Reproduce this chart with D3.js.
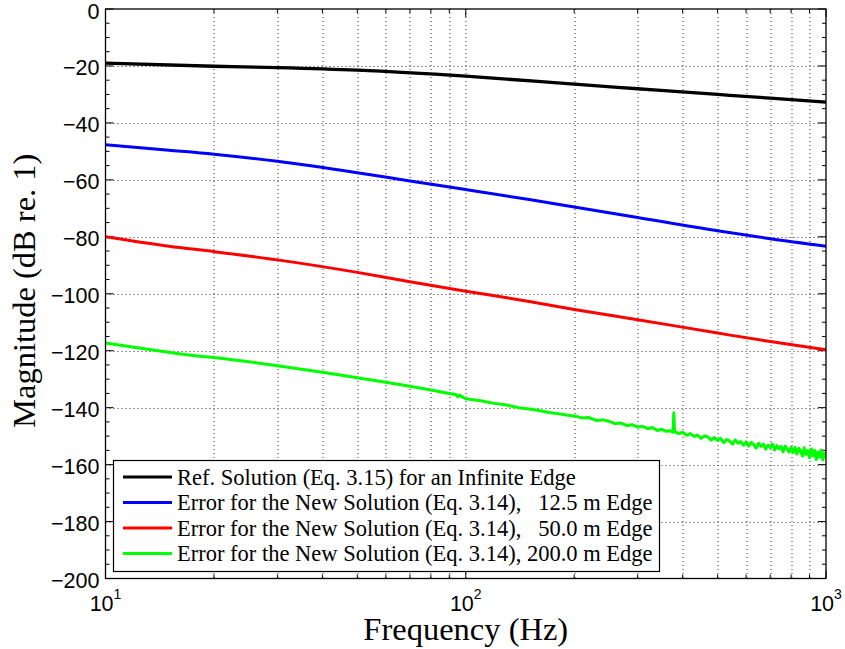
<!DOCTYPE html>
<html>
<head>
<meta charset="utf-8">
<script src="https://cdn.jsdelivr.net/npm/d3@7/dist/d3.min.js"></script>
<style>
  html, body { margin: 0; padding: 0; background: #fff; }
  svg { display: block; }
  text { white-space: pre; }
</style>
</head>
<body>
<svg id="chart" width="845" height="649"></svg>
<script>
// ---------------- DATA ----------------
const xTickExponents = [1, 2, 3];
const yTicks = [0, -20, -40, -60, -80, -100, -120, -140, -160, -180, -200];

const legendLabels = [
  "Ref. Solution (Eq. 3.15) for an Infinite Edge",
  "Error for the New Solution (Eq. 3.14),   12.5 m Edge",
  "Error for the New Solution (Eq. 3.14),   50.0 m Edge",
  "Error for the New Solution (Eq. 3.14), 200.0 m Edge"
];
const seriesColors = ["#000000", "#0000ff", "#ff0000", "#00ff00"];

const freqBlack = [10, 20, 30, 50, 100, 200, 300, 500, 700, 1000];
const magBlack  = [-19.0, -20.1, -20.6, -21.5, -23.6, -26.4, -28.0, -30.0, -31.3, -32.7];

const freqBlue = [10, 15, 20, 30, 50, 70, 100, 150, 200, 300, 500, 700, 1000];
const magBlue  = [-47.7, -49.6, -51.0, -53.5, -57.5, -60.4, -63.4, -66.9, -69.5, -73.2, -77.9, -80.7, -83.3];

const freqRed = [10, 15, 20, 30, 50, 70, 100, 150, 200, 300, 500, 700, 1000];
const magRed  = [-80.0, -83.3, -85.2, -88.1, -92.5, -95.8, -99.1, -102.7, -105.5, -109.1, -113.8, -116.8, -119.7];

const freqGreen = [
  10, 12, 14, 16, 18, 20, 25, 30, 35, 40, 50, 60, 70, 80, 90, 94, 95, 96,
  100, 110, 120, 130, 140, 150, 160, 170, 180, 190,
  200, 210, 220, 230, 240, 250, 260, 270, 280, 290,
  300, 310, 320, 330, 340, 350, 360, 370, 376, 378, 380, 390,
  400, 410, 420, 430, 440, 450, 460, 470, 480, 490,
  500, 510, 520, 530, 540, 550, 560, 570, 580, 590,
  600, 610, 620, 630, 640, 650, 660, 670, 680, 690,
  700, 710, 720, 730, 740, 750, 760, 770, 780, 790,
  800, 810, 820, 830, 840, 850, 860, 870, 880, 890,
  900, 910, 920, 930, 940, 950, 960, 970, 980, 990, 1000
];
const magGreen = [
  -117.3, -118.8, -120.0, -121.1, -121.9, -122.4, -123.9, -125.3, -126.5, -127.6, -129.5, -131.1, -132.5, -133.8, -135.0, -135.4, -136.2, -135.6,
  -136.9, -137.6, -138.5, -139.1, -140.0, -140.5, -141.0, -141.7, -142.1, -142.6,
  -142.9, -143.6, -143.5, -144.5, -144.3, -144.8, -145.6, -145.4, -146.3, -146.0,
  -146.8, -146.6, -147.4, -147.0, -148.0, -147.6, -148.3, -148.1, -148.6, -141.8, -148.4, -149.1,
  -148.6, -149.7, -149.1, -150.1, -149.6, -150.8, -149.9, -150.3, -151.4, -150.5,
  -151.5, -150.8, -152.3, -151.2, -151.7, -152.8, -151.3, -152.5, -151.9, -153.2,
  -152.0, -153.5, -152.2, -152.9, -154.2, -152.5, -153.6, -152.8, -154.6, -153.2,
  -154.0, -152.8, -154.9, -153.3, -154.4, -153.6, -155.5, -153.5, -154.6, -155.6,
  -153.9, -155.7, -154.0, -156.3, -154.3, -155.2, -157.0, -154.1, -156.4, -155.1,
  -157.6, -154.5, -156.9, -155.0, -158.2, -155.6, -157.4, -154.9, -158.4, -156.0, -157.6
];

// ---------------- LAYOUT ----------------
const W = 845, H = 649;
const margin = { left: 105.5, right: 19, top: 9, bottom: 70.5 };
const pw = W - margin.left - margin.right;
const ph = H - margin.top - margin.bottom;

const svg = d3.select("#chart");
const g = svg.append("g").attr("transform", `translate(${margin.left},${margin.top})`);

const x = d3.scaleLog().domain([10, 1000]).range([0, pw]);
const y = d3.scaleLinear().domain([-200, 0]).range([ph, 0]);

const majorX = xTickExponents.map(e => Math.pow(10, e));
const minorX = [];
for (let d = 10; d < 1000; d *= 10) for (let k = 2; k <= 9; k++) minorX.push(d * k);
const minorY = d3.range(-195, 0, 5).filter(v => v % 20 !== 0);

// grid
const gridStyle = sel => sel.attr("stroke", "#333").attr("stroke-width", 1).attr("stroke-dasharray", "1,3");
g.append("g").selectAll("line").data(majorX.concat(minorX).filter(v => v > 10 && v < 1000)).join("line")
  .attr("x1", d => Math.round(x(d)) + 0.5).attr("x2", d => Math.round(x(d)) + 0.5)
  .attr("y1", 0).attr("y2", ph).call(gridStyle);
g.append("g").selectAll("line").data(yTicks.filter(v => v > -200 && v < 0)).join("line")
  .attr("x1", 0).attr("x2", pw)
  .attr("y1", d => Math.round(y(d)) + 0.5).attr("y2", d => Math.round(y(d)) + 0.5).call(gridStyle);

// ticks (inward, all four sides)
const tk = g.append("g").attr("stroke", "#000").attr("stroke-width", 1);
majorX.forEach(v => {
  const px = x(v);
  tk.append("line").attr("x1", px).attr("x2", px).attr("y1", ph).attr("y2", ph - 8);
  tk.append("line").attr("x1", px).attr("x2", px).attr("y1", 0).attr("y2", 8);
});
minorX.forEach(v => {
  const px = x(v);
  tk.append("line").attr("x1", px).attr("x2", px).attr("y1", ph).attr("y2", ph - 4);
  tk.append("line").attr("x1", px).attr("x2", px).attr("y1", 0).attr("y2", 4);
});
yTicks.forEach(v => {
  const py = y(v);
  tk.append("line").attr("x1", 0).attr("x2", 8).attr("y1", py).attr("y2", py);
  tk.append("line").attr("x1", pw).attr("x2", pw - 8).attr("y1", py).attr("y2", py);
});
minorY.forEach(v => {
  const py = y(v);
  tk.append("line").attr("x1", 0).attr("x2", 4).attr("y1", py).attr("y2", py);
  tk.append("line").attr("x1", pw).attr("x2", pw - 4).attr("y1", py).attr("y2", py);
});

// clip
svg.append("defs").append("clipPath").attr("id", "clip")
  .append("rect").attr("x", 0).attr("y", 0).attr("width", pw).attr("height", ph);

const series = [
  { f: freqBlack, m: magBlack, curve: d3.curveMonotoneX },
  { f: freqBlue,  m: magBlue,  curve: d3.curveMonotoneX },
  { f: freqRed,   m: magRed,   curve: d3.curveMonotoneX },
  { f: freqGreen, m: magGreen, curve: d3.curveLinear }
];
const lines = g.append("g").attr("clip-path", "url(#clip)");
series.forEach((s, i) => {
  const pts = s.f.map((f, j) => [f, s.m[j]]);
  const line = d3.line().x(d => x(d[0])).y(d => y(d[1])).curve(s.curve);
  lines.append("path").datum(pts)
    .attr("d", line)
    .attr("fill", "none")
    .attr("stroke", seriesColors[i])
    .attr("stroke-width", i === 0 ? 3.3 : 3)
    .attr("stroke-linejoin", "round");
});

// axes box
g.append("rect").attr("x", 0).attr("y", 0).attr("width", pw).attr("height", ph)
  .attr("fill", "none").attr("stroke", "#000").attr("stroke-width", 1.3);

// tick labels
const tickFont = "'Liberation Sans', Arial, Helvetica, sans-serif";
g.append("g").selectAll("text").data(yTicks).join("text")
  .attr("x", -6).attr("y", d => y(d) + 2.5)
  .attr("text-anchor", "end").attr("dominant-baseline", "central")
  .attr("font-family", tickFont).attr("font-size", 21.5).attr("fill", "#000")
  .text(d => d === 0 ? "0" : "\u2212" + Math.abs(d));

const xl = g.append("g").selectAll("text").data(xTickExponents).join("text")
  .attr("x", d => x(Math.pow(10, d))).attr("y", ph + 32)
  .attr("text-anchor", "middle")
  .attr("font-family", tickFont).attr("font-size", 21.5).attr("fill", "#000");
xl.append("tspan").text("10");
xl.append("tspan").attr("dy", -12).attr("font-size", 14).text(d => String(d));

// axis labels
const serif = "'Liberation Serif', 'Times New Roman', Times, serif";
svg.append("text")
  .attr("x", margin.left + pw / 2).attr("y", 640)
  .attr("text-anchor", "middle")
  .attr("font-family", serif).attr("font-size", 32.5).attr("fill", "#000")
  .text("Frequency (Hz)");
svg.append("text")
  .attr("transform", `translate(35,${margin.top + ph / 2 - 3}) rotate(-90)`)
  .attr("text-anchor", "middle")
  .attr("font-family", serif).attr("font-size", 32.5).attr("fill", "#000")
  .text("Magnitude (dB re. 1)");

// legend
const lg = svg.append("g").attr("transform", "translate(113,460)");
lg.append("rect").attr("x", 0.5).attr("y", 0.5).attr("width", 546).attr("height", 111)
  .attr("fill", "#fff").attr("stroke", "#000").attr("stroke-width", 1.2);
legendLabels.forEach((lab, i) => {
  const cy = 17 + i * 25.5;
  lg.append("line").attr("x1", 10).attr("x2", 59).attr("y1", cy).attr("y2", cy)
    .attr("stroke", seriesColors[i]).attr("stroke-width", 3);
  lg.append("text").attr("x", 64).attr("y", cy + 7.5)
    .attr("font-family", serif).attr("font-size", 22.5).attr("fill", "#000")
    .text(lab);
});
</script>
</body>
</html>
